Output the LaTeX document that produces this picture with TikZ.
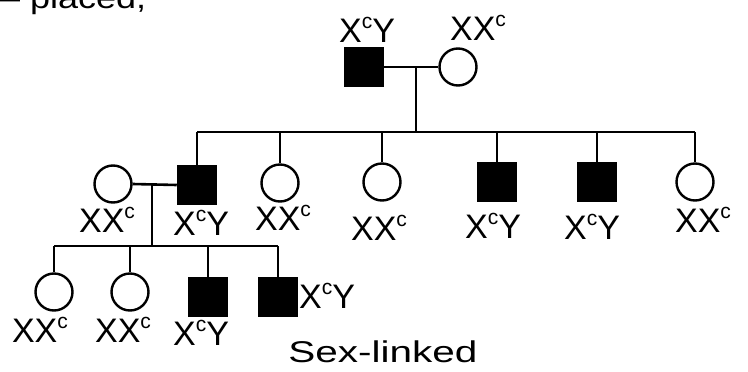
\documentclass[tikz,border=0pt]{standalone}
\usepackage{fontspec}
\setmainfont{Liberation Sans}
\newcommand\supc{\raisebox{0.42em}{\fontsize{21}{21}\selectfont c}}
\begin{document}
\begin{tikzpicture}[x=1pt,y=-1pt,
  link/.style={line width=2.6pt},
  male/.style={draw, fill=black, minimum size=39pt, inner sep=0pt, line width=1.5pt},
  female/.style={draw, circle, fill=white, minimum size=37pt, inner sep=0pt, line width=2.4pt},
  geno/.style={font=\fontsize{34}{34}\selectfont, inner sep=0pt},
  note/.style={font=\fontsize{30}{30}\selectfont, inner sep=0pt}]
\useasboundingbox (0,0) rectangle (748,372);
\clip (0,0) rectangle (748,372);

% note cut off at the top edge
\node[note, anchor=base west] (placed) at (0,9) {\scalebox{1.2}[1]{– placed,}};

% generation I
\node[male]   (f1) at (364,67) {};
\node[female] (m1) at (458,67) {};
\node[geno] (f1g) at (367,30) {X\supc Y};
\node[geno] (m1g) at (478,28) {XX\supc};
\coordinate (j1) at (416,67);
\coordinate (b1) at (416,132);
\draw[link] (f1.east) -- (m1.west);
\draw[link] (j1) -- (b1);

% generation II
\node[female] (w)  at (113,184) {};
\node[male]   (s1) at (197,185) {};
\node[female] (c2) at (280,183) {};
\node[female] (c3) at (382,182) {};
\node[male]   (s4) at (497,182) {};
\node[male]   (s5) at (597,182) {};
\node[female] (c6) at (695,182) {};

\node[geno] (wg)  at (107,220) {XX\supc};
\node[geno] (s1g) at (201,223) {X\supc Y};
\node[geno] (c2g) at (283,218) {XX\supc};
\node[geno] (c3g) at (379,228) {XX\supc};
\node[geno] (s4g) at (493,226) {X\supc Y};
\node[geno] (s5g) at (592,227) {X\supc Y};
\node[geno] (c6g) at (703,220) {XX\supc};

\draw[link] (s1.north |- b1) -- (c6.north |- b1);
\foreach \k in {s1,c2,c3,s4,s5,c6}
  \draw[link] (\k.north |- b1) -- (\k.north);

% generation III
\coordinate (j2) at (152,184);
\coordinate (b2) at (152,246);
\draw[link] (w.east) -- (s1.west);
\draw[link] (j2) -- (b2);

\node[female] (g1) at (54,292) {};
\node[female] (g2) at (130,292) {};
\node[male]   (g3) at (208,297) {};
\node[male]   (g4) at (278,297) {};

\node[geno] (g1g) at (40,330) {XX\supc};
\node[geno] (g2g) at (123,330) {XX\supc};
\node[geno] (g3g) at (201,333) {X\supc Y};
\node[geno] (g4g) at (327,296) {X\supc Y};

\draw[link] (g1.north |- b2) -- (g4.north |- b2);
\foreach \k in {g1,g2,g3,g4}
  \draw[link] (\k.north |- b2) -- (\k.north);

% caption
\node[note] (cap) at (383,352) {\scalebox{1.35}[1]{Sex-linked}};
\end{tikzpicture}
\end{document}
